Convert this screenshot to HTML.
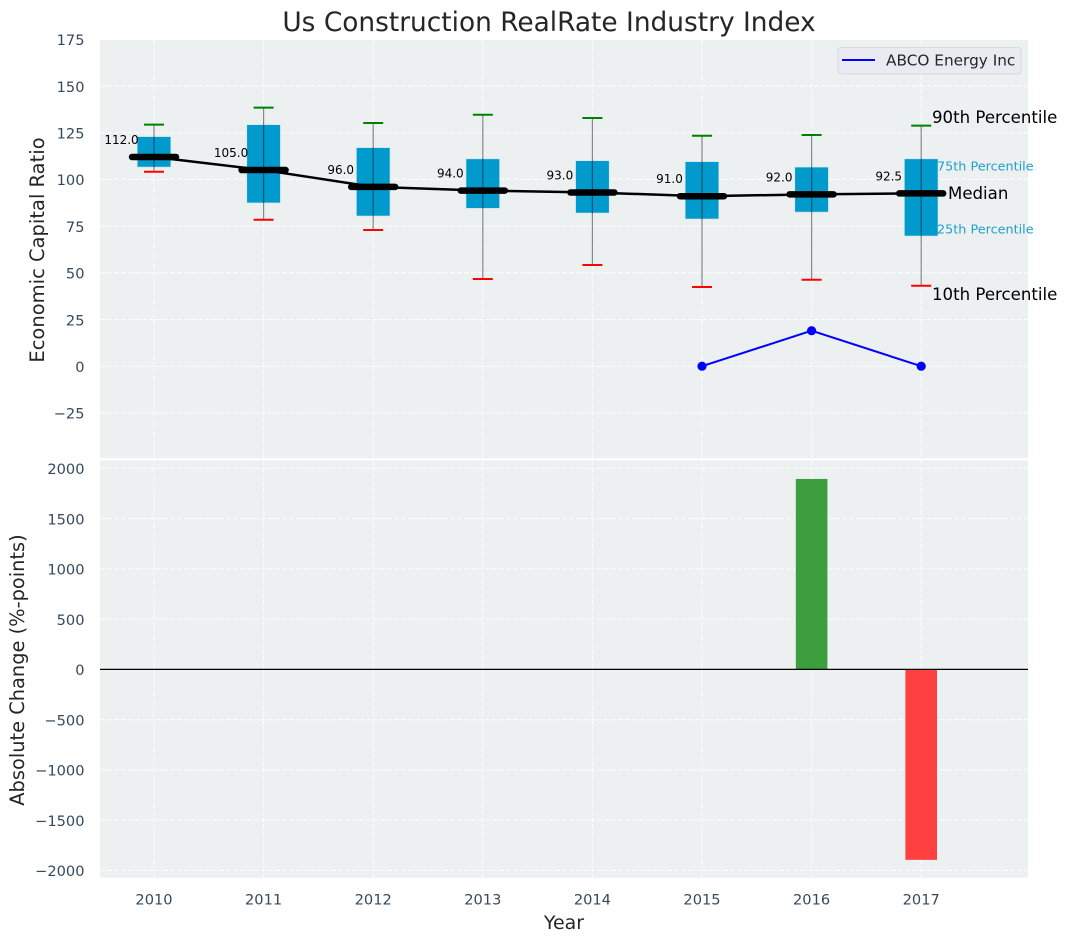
<!DOCTYPE html>
<html lang="en">
<head>
<meta charset="utf-8">
<title>Us Construction RealRate Industry Index</title>
<style>
html,body{margin:0;padding:0;background:#fff;width:1067px;height:942px;overflow:hidden}
svg{display:block;font-family:"DejaVu Sans","Liberation Sans",sans-serif}
</style>
</head>
<body>
<svg id="chart" xmlns="http://www.w3.org/2000/svg" width="1067" height="942" viewBox="0 0 1067 942">
  <rect x="0" y="0" width="1067" height="942" fill="#ffffff"/>
  <rect x="100" y="40" width="928" height="418.3" fill="#ecf0f1"/>
  <rect x="100" y="460.3" width="928" height="417.4" fill="#ecf0f1"/>
  <g id="grid"></g>
  <g id="ticks"></g>
  <g id="marks"></g>
  <text x="549" y="31" font-size="26.4" fill="#262626" text-anchor="middle">Us Construction RealRate Industry Index</text>
  <text x="0" y="0" transform="translate(44,250) rotate(-90)" font-size="19.5" fill="#262626" text-anchor="middle">Economic Capital Ratio</text>
  <text x="0" y="0" transform="translate(24,670) rotate(-90)" font-size="19.4" fill="#262626" text-anchor="middle">Absolute Change (%-points)</text>
  <text x="564" y="929" font-size="19" fill="#262626" text-anchor="middle">Year</text>
  <g>
    <rect x="838" y="47.5" width="183" height="26.5" rx="3" fill="#eaeaf2" stroke="#d8d8de" stroke-width="1"/>
    <line x1="842" y1="60" x2="875" y2="60" stroke="#0000ff" stroke-width="2"/>
    <text x="886" y="65.5" font-size="15.3" fill="#262626">ABCO Energy Inc</text>
  </g>
  <g>
    <text x="932" y="123" font-size="16.6" fill="#000000">90th Percentile</text>
    <text x="937" y="170.5" font-size="12.8" fill="#1f9fce">75th Percentile</text>
    <text x="948" y="199" font-size="16.6" fill="#000000">Median</text>
    <text x="937" y="233.5" font-size="12.8" fill="#1f9fce">25th Percentile</text>
    <text x="932" y="300" font-size="16.6" fill="#000000">10th Percentile</text>
  </g>
</svg>
<script>
const years = [2010, 2011, 2012, 2013, 2014, 2015, 2016, 2017];
const p90 = [129.3, 138.4, 130.2, 134.6, 132.9, 123.4, 123.8, 128.8];
const p75 = [122.9, 129.3, 117, 111, 110, 109.5, 106.6, 111];
const medians = [112, 105, 96, 94, 93, 91, 92, 92.5];
const p25 = [106.6, 87.4, 80.4, 84.5, 82, 78.8, 82.5, 69.7];
const p10 = [104.1, 78.4, 72.9, 46.7, 54.2, 42.4, 46.3, 43.1];
const medianLabels = ["112.0", "105.0", "96.0", "94.0", "93.0", "91.0", "92.0", "92.5"];
const companyYears = [2015, 2016, 2017];
const companyValues = [0, 19, 0];
const changeYears = [2016, 2017];
const changeValues = [1895, -1895];
const topTicks = [175, 150, 125, 100, 75, 50, 25, 0, -25];
const bottomTicks = [2000, 1500, 1000, 500, 0, -500, -1000, -1500, -2000];

const NS = 'http://www.w3.org/2000/svg';
const X = y => 154 + (y - 2010) * 109.6;
const Y1 = v => 366.2 - v * 1.868;
const Y2 = v => 669.4 - v * 0.1005;
const gridG = document.getElementById('grid');
const tickG = document.getElementById('ticks');
const marksG = document.getElementById('marks');

function make(tag, parent, props) {
  const el = document.createElementNS(NS, tag);
  for (const k in props) el.setAttribute(k, props[k]);
  parent.appendChild(el);
  return el;
}
const fmt = v => (v < 0 ? '\u2212' + Math.abs(v) : String(v));

years.forEach(function (yr) {
  const a = make('line', gridG, {x1: X(yr), x2: X(yr), y1: 40, y2: 458.3, stroke: '#fff', 'stroke-opacity': 0.85, 'stroke-width': 1, 'stroke-dasharray': '5 2'});
  
  
  const b = make('line', gridG, {x1: X(yr), x2: X(yr), y1: 460.3, y2: 877.7, stroke: '#fff', 'stroke-opacity': 0.85, 'stroke-width': 1, 'stroke-dasharray': '5 2'});
  
  
  const t = make('text', tickG, {x: X(yr), y: 904.5, 'font-size': 14.6, fill: '#34495e', 'text-anchor': 'middle'});
  t.textContent = yr;
  
  
});

topTicks.forEach(function (v) {
  const g = make('line', gridG, {x1: 100, x2: 1028, y1: Y1(v), y2: Y1(v), stroke: '#fff', 'stroke-opacity': 0.85, 'stroke-width': 1, 'stroke-dasharray': '5 2'});
  
  
  const t = make('text', tickG, {x: 84.5, y: Y1(v) + 5.8, 'font-size': 14.6, fill: '#34495e', 'text-anchor': 'end'});
  t.textContent = fmt(v);
  
  
});

bottomTicks.forEach(function (v) {
  const g = make('line', gridG, {x1: 100, x2: 1028, y1: Y2(v), y2: Y2(v), stroke: '#fff', 'stroke-opacity': 0.85, 'stroke-width': 1, 'stroke-dasharray': '5 2'});
  
  
  const t = make('text', tickG, {x: 84.5, y: Y2(v) + 5.8, 'font-size': 14.6, fill: '#34495e', 'text-anchor': 'end'});
  t.textContent = fmt(v);
  
  
});

/* boxes */
years.forEach(function (yr, i) {
  const box = make('rect', marksG, {x: X(yr) - 16.8, y: Y1(p75[i]), width: 33.6, height: Y1(p25[i]) - Y1(p75[i]), fill: '#009acd', stroke: '#cfe6ee', 'stroke-width': 0.6});
  
  
  const w = make('line', marksG, {x1: X(yr), x2: X(yr), y1: Y1(p90[i]), y2: Y1(p10[i]), stroke: '#000', 'stroke-opacity': 0.45, 'stroke-width': 1.2});
  
  
  const hi = make('line', marksG, {x1: X(yr) - 10, x2: X(yr) + 10, y1: Y1(p90[i]), y2: Y1(p90[i]), stroke: '#008000', 'stroke-width': 2});
  
  
  const lo = make('line', marksG, {x1: X(yr) - 10, x2: X(yr) + 10, y1: Y1(p10[i]), y2: Y1(p10[i]), stroke: '#ff0000', 'stroke-width': 2});
  
  
});

/* median trend */
const trend = make('polyline', marksG, {points: years.map((yr, i) => X(yr) + ',' + Y1(medians[i])).join(' '), fill: 'none', stroke: '#000', 'stroke-width': 2.5});



years.forEach(function (yr, i) {
  const m = make('line', marksG, {x1: X(yr) - 22, x2: X(yr) + 22, y1: Y1(medians[i]), y2: Y1(medians[i]), stroke: '#000', 'stroke-width': 6.5, 'stroke-linecap': 'round'});
  
  
  const t = make('text', marksG, {x: X(yr) - 32.5, y: Y1(medians[i]) - 13, 'font-size': 12, fill: '#000', 'text-anchor': 'middle'});
  t.textContent = medianLabels[i];
  
  
});

/* company series */
const line = make('polyline', marksG, {points: companyYears.map((yr, i) => X(yr) + ',' + Y1(companyValues[i])).join(' '), fill: 'none', stroke: '#0000ff', 'stroke-width': 2});


companyYears.forEach(function (yr, i) {
  const c = make('circle', marksG, {cx: X(yr), cy: Y1(companyValues[i]), r: 4.6, fill: '#0000ff'});
  
  
});

/* change bars */
changeYears.forEach(function (yr, i) {
  const v = changeValues[i];
  const top = Math.min(Y2(v), Y2(0));
  const r = make('rect', marksG, {x: X(yr) - 15.8, y: top, width: 31.6, height: Math.abs(Y2(v) - Y2(0)), fill: v >= 0 ? '#3c9e3c' : '#ff4040'});
  
  
});
const zero = make('line', marksG, {x1: 100, x2: 1028, y1: Y2(0), y2: Y2(0), stroke: '#000', 'stroke-width': 1.2});


</script>
</body>
</html>
